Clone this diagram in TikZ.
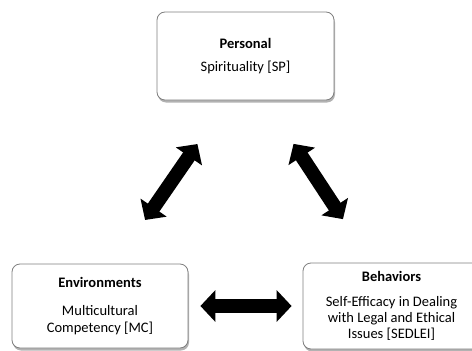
\documentclass[tikz,border=0pt]{standalone}
\usepackage{fontspec}
\setmainfont{Carlito}
\usepackage{tikz}
\usetikzlibrary{arrows.meta, shadows, calc}
\definecolor{boxline}{HTML}{7F7F7F}
\tikzset{
    factor/.style={
        rectangle, draw=boxline, fill=white, line width=0.8pt,
        rounded corners=8pt, align=center,
        font=\fontsize{14.5}{16.2}\selectfont,
        drop shadow={shadow xshift=1pt, shadow yshift=-2.5pt, opacity=0.3, fill=black}
    },
    % Reciprocal arrows
    twoway/.style={black, line width=14pt, {Triangle[length=15pt, width=31pt]}-{Triangle[length=15pt, width=31pt]}}
}

\begin{document}
\begin{tikzpicture}[x=1pt, y=-1pt]
    \useasboundingbox (0,0) rectangle (472,351);
    \node (pers) [factor, minimum width=177pt, minimum height=88pt] at (245.5,56) {\textbf{Personal}\\[7pt]Spirituality [SP]};
    \node (envir) [factor, minimum width=176pt, minimum height=84pt] at (100,306) {\textbf{Environments}\\[12pt]Multicultural\\Competency [MC]};
    \node (behav) [factor, minimum width=177pt, minimum height=86pt] at (391.5,306) {\textbf{Behaviors}\\[9pt]Self-Efficacy in Dealing\\with Legal and Ethical\\Issues [SEDLEI]};

    \draw [twoway, shorten <=53pt, shorten >=53pt] ([xshift=15pt]envir.north) -- ([xshift=-18pt]pers.south);
    \draw [twoway, shorten <=52pt, shorten >=52pt] ([xshift=19.5pt]pers.south) -- ([xshift=-20pt]behav.north);
    \draw [twoway, shorten <=12pt, shorten >=11pt] (envir.east) -- (behav.west);
\end{tikzpicture}
\end{document}
